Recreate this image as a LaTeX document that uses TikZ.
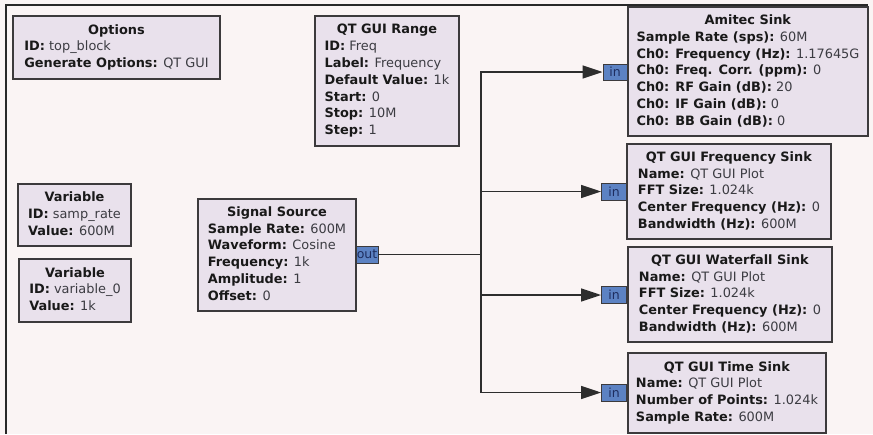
\documentclass[tikz,border=0pt]{standalone}
\usepackage{fontspec}
\setmainfont{DejaVu Sans}
\usetikzlibrary{arrows.meta}
\definecolor{bg}{RGB}{250,244,244}
\definecolor{frame}{RGB}{40,40,40}
\definecolor{boxfill}{RGB}{233,225,236}
\definecolor{boxline}{RGB}{60,58,60}
\definecolor{portfill}{RGB}{92,130,195}
\definecolor{porttext}{RGB}{30,45,95}
\definecolor{keytext}{RGB}{25,25,25}
\definecolor{valtext}{RGB}{60,60,66}
\definecolor{wire}{RGB}{45,45,45}
\newcommand{\kv}[2]{\textbf{#1:} {\color{valtext}#2}}
\newcommand{\ttl}[1]{\multicolumn{1}{@{}c@{}}{\textbf{#1}}}
\tikzset{
  blk/.style={draw=boxline, line width=1.6pt, fill=boxfill, inner sep=0pt,
    text=keytext, font=\fontsize{12.9}{16.8}\selectfont},
  port/.style={draw=boxline, line width=0.9pt, fill=portfill, inner sep=0pt,
    text=porttext, font=\fontsize{12.5}{13}\selectfont},
  wireline/.style={draw=wire, line width=1.4pt},
  arr/.style={wireline, -{Triangle[length=20pt,width=13pt]}}
}
\begin{document}
\begin{tikzpicture}[x=1pt,y=-1pt]
\fill[bg] (0,0) rectangle (873,434);
\useasboundingbox (0,0) rectangle (873,434);
\draw[frame, line width=1.6pt] (6,434) -- (6,5) -- (868,5);

\node[blk, minimum width=207pt, minimum height=63pt] (options) at (116.5,47.5)
 {\begin{tabular}{@{}l@{}}\ttl{Options}\\ \kv{ID}{top\_block}\\ \kv{Generate Options}{QT GUI}\end{tabular}};

\node[blk, minimum width=144pt, minimum height=130pt] (range) at (387,81)
 {\begin{tabular}{@{}l@{}}\ttl{QT GUI Range}\\ \kv{ID}{Freq}\\ \kv{Label}{Frequency}\\ \kv{Default Value}{1k}\\ \kv{Start}{0}\\ \kv{Stop}{10M}\\ \kv{Step}{1}\end{tabular}};

\node[blk, minimum width=240pt, minimum height=129pt] (amitec) at (748,71.5)
 {\begin{tabular}{@{}l@{}}\ttl{Amitec Sink}\\ \kv{Sample Rate (sps)}{60M}\\ \kv{Ch0: Frequency (Hz)}{1.17645G}\\ \kv{Ch0: Freq. Corr. (ppm)}{0}\\ \kv{Ch0: RF Gain (dB)}{20}\\ \kv{Ch0: IF Gain (dB)}{0}\\ \kv{Ch0: BB Gain (dB)}{0}\end{tabular}};

\node[blk, minimum width=204pt, minimum height=95pt] (freq) at (729,191.5)
 {\begin{tabular}{@{}l@{}}\ttl{QT GUI Frequency Sink}\\ \kv{Name}{QT GUI Plot}\\ \kv{FFT Size}{1.024k}\\ \kv{Center Frequency (Hz)}{0}\\ \kv{Bandwidth (Hz)}{600M}\end{tabular}};

\node[blk, minimum width=204pt, minimum height=95pt] (water) at (730,294.5)
 {\begin{tabular}{@{}l@{}}\ttl{QT GUI Waterfall Sink}\\ \kv{Name}{QT GUI Plot}\\ \kv{FFT Size}{1.024k}\\ \kv{Center Frequency (Hz)}{0}\\ \kv{Bandwidth (Hz)}{600M}\end{tabular}};

\node[blk, minimum width=198pt, minimum height=80pt] (time) at (727,393)
 {\begin{tabular}{@{}l@{}}\ttl{QT GUI Time Sink}\\ \kv{Name}{QT GUI Plot}\\ \kv{Number of Points}{1.024k}\\ \kv{Sample Rate}{600M}\end{tabular}};

\node[blk, minimum width=113pt, minimum height=62pt] (var1) at (74.5,215)
 {\begin{tabular}{@{}l@{}}\ttl{Variable}\\ \kv{ID}{samp\_rate}\\ \kv{Value}{600M}\end{tabular}};

\node[blk, minimum width=112pt, minimum height=63pt] (var2) at (75,290.5)
 {\begin{tabular}{@{}l@{}}\ttl{Variable}\\ \kv{ID}{variable\_0}\\ \kv{Value}{1k}\end{tabular}};

\node[blk, minimum width=158pt, minimum height=112pt] (src) at (277,255)
 {\begin{tabular}{@{}l@{}}\ttl{Signal Source}\\ \kv{Sample Rate}{600M}\\ \kv{Waveform}{Cosine}\\ \kv{Frequency}{1k}\\ \kv{Amplitude}{1}\\ \kv{Offset}{0}\end{tabular}};

\node[port, minimum width=22pt, minimum height=17pt] (out) at (367,254.5) {out};
\node[port, minimum width=24pt, minimum height=16pt] (in1) at (615,72) {in};
\node[port, minimum width=25pt, minimum height=17pt] (in2) at (614,191.5) {in};
\node[port, minimum width=25pt, minimum height=17pt] (in3) at (614,295) {in};
\node[port, minimum width=25pt, minimum height=17pt] (in4) at (614,392.5) {in};

\coordinate (j) at (481,254.5);
\draw[wireline] (out.east) -- (j);
\draw[arr] (j) |- (in1.west);
\draw[arr] (j) |- (in2.west);
\draw[arr] (j) |- (in3.west);
\draw[arr] (j) |- (in4.west);
\end{tikzpicture}
\end{document}
